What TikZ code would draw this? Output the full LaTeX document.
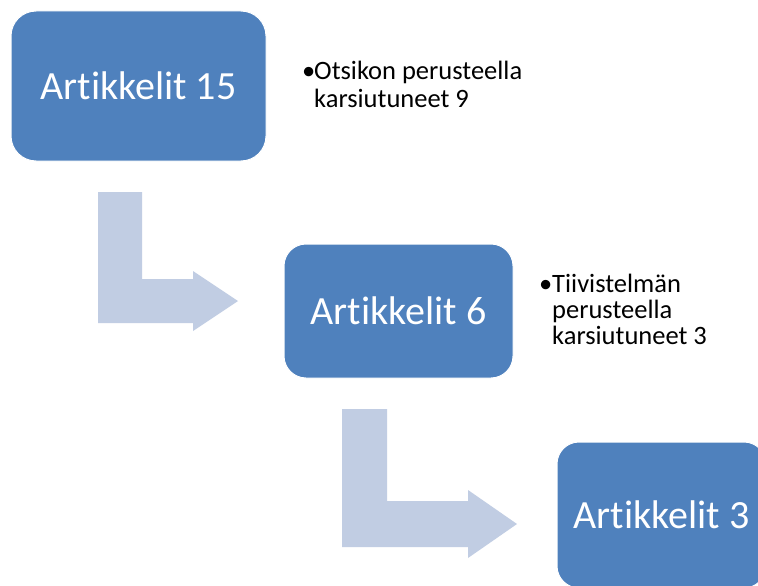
\documentclass[tikz,border=0pt]{standalone}
\usepackage{fontspec}
\setmainfont{Carlito}[Ligatures={NoCommon,NoRare,NoContextual}]
\definecolor{boxblue}{RGB}{79,129,189}
\definecolor{arrowblue}{RGB}{193,205,227}
\tikzset{
  box/.style={fill=boxblue, draw=white, line width=1pt, rounded corners=#1, text=white,
    font=\fontsize{40}{48}\selectfont, inner sep=0pt},
  bentarrow/.style={fill=arrowblue, draw=none},
  bullettext/.style={anchor=base west, inner sep=0pt, text=black, align=left}
}
\begin{document}
\begin{tikzpicture}[x=1pt,y=-1pt]
\clip (0,0) rectangle (758,586);
\fill[white] (0,0) rectangle (758,586);
% bent arrows
\fill[bentarrow] (98,192) -- (142,192) -- (142,279) -- (193,279) -- (193,271) -- (238,301) -- (193,331) -- (193,323) -- (98,323) -- cycle;
\fill[bentarrow] (342,409) -- (387,409) -- (387,501) -- (468,501) -- (468,490) -- (517,524) -- (468,558) -- (468,547) -- (342,547) -- cycle;
% boxes
\node[box=25pt, minimum width=255pt, minimum height=150pt] (a1) at (138.5,86) {Artikkelit 15};
\node[box=22pt, minimum width=229pt, minimum height=134pt] (a2) at (398.5,311) {Artikkelit 6};
\node[box=22pt, minimum width=209pt, minimum height=146pt] (a3) at (661.5,515) {Artikkelit 3};
% bullet texts
\node[bullettext, font=\fontsize{26.5}{28}\selectfont] (t1) at (302,80)
  {\makebox[12pt][l]{\textbullet}\begin{tabular}[t]{@{}l@{}}Otsikon perusteella\\karsiutuneet 9\end{tabular}};
\node[bullettext, font=\fontsize{26.5}{25.5}\selectfont] (t2) at (539,292)
  {\makebox[13pt][l]{\textbullet}\begin{tabular}[t]{@{}l@{}}Tiivistelmän\\perusteella\\karsiutuneet 3\end{tabular}};
\end{tikzpicture}
\end{document}
